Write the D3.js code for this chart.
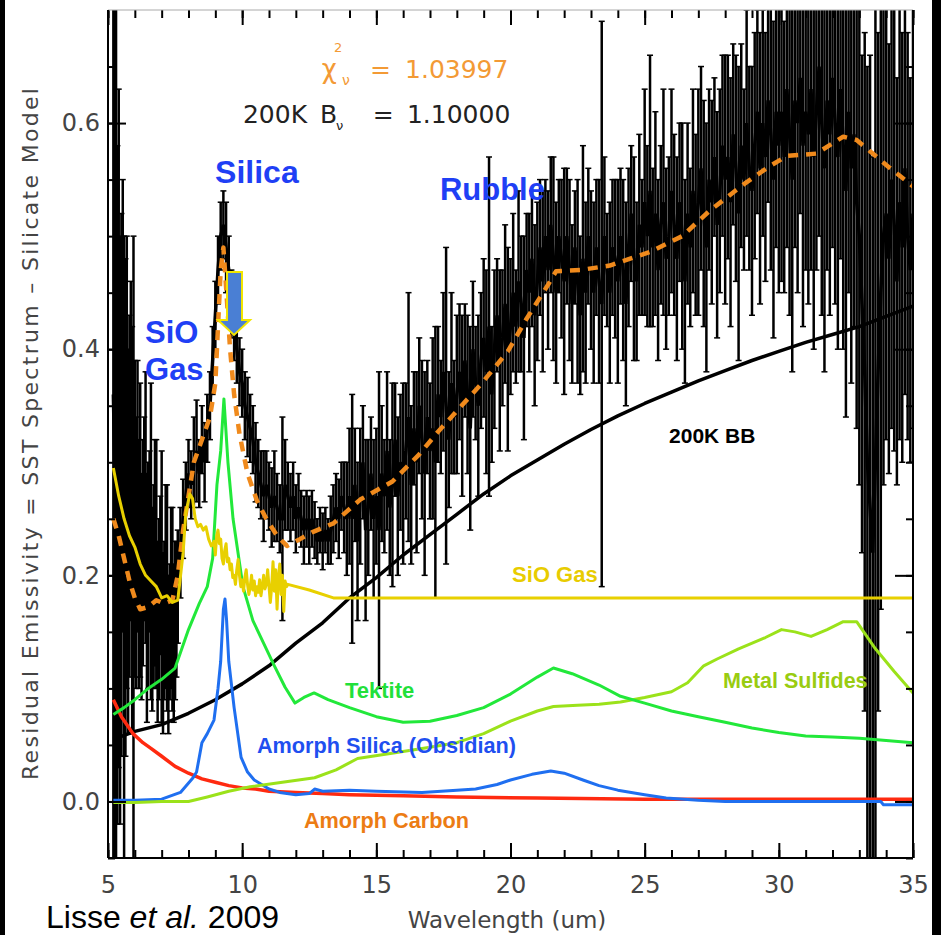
<!DOCTYPE html>
<html>
<head>
<meta charset="utf-8">
<script src="https://cdn.jsdelivr.net/npm/d3@7"></script>
<style>
  body { margin: 0; background: #fff; }
  svg { display: block; }
  .tick text { font-family: "DejaVu Sans", sans-serif; fill: #444; font-size: 24px; }
  .tick line { stroke: #000; stroke-width: 2; }
  .lbl { font-family: "Liberation Sans", Arial, sans-serif; font-weight: bold; }
  .idl { font-family: "DejaVu Sans", sans-serif; }
</style>
</head>
<body>
<svg id="chart" width="941" height="935"></svg>
<script>

//observed residual spectrum (wavelength um, emissivity, 1-sigma error)
const obsWave = [5.20,5.25,5.30,5.35,5.40,5.45,5.50,5.55,5.60,5.65,5.70,5.75,5.80,5.85,5.90,5.95,6.00,6.05,6.10,6.15,6.20,6.25,6.30,6.35,6.40,6.45,6.50,6.55,6.60,6.65,6.70,6.75,6.80,6.85,6.90,6.95,7.00,7.05,7.10,7.15,7.20,7.25,7.30,7.35,7.40,7.45,7.50,7.55,7.60,
  7.7,7.8,7.9,8.0,8.1,8.2,8.3,8.4,8.5,8.6,8.7,8.8,8.9,9.0,9.1,9.2,9.3,9.4,9.5,9.6,9.7,9.8,9.9,10.0,10.1,10.2,10.3,10.4,10.5,10.6,10.7,10.8,10.9,11.0,11.1,11.2,11.3,11.4,11.5,11.6,11.7,11.8,11.9,12.0,12.1,12.2,12.3,12.4,12.5,12.6,12.7,12.8,12.9,13.0,13.1,13.2,13.3,13.4,13.5,13.6,13.7,13.8,13.9,14.0,
  14.1,14.2,14.3,14.4,14.5,14.6,14.7,14.8,14.9,15.0,15.1,15.2,15.3,15.4,15.5,15.6,15.7,15.8,15.9,16.0,16.1,16.2,16.3,16.4,16.5,16.6,16.7,16.8,16.9,17.0,17.1,17.2,17.3,17.4,17.5,17.6,17.7,17.8,17.9,18.0,
  18.1,18.2,18.3,18.4,18.5,18.6,18.7,18.8,18.9,19.0,19.1,19.2,19.3,19.4,19.5,19.6,19.7,19.8,19.9,20.0,20.1,20.2,20.3,20.4,20.5,20.6,20.7,20.8,20.9,21.0,21.1,21.2,21.3,21.4,21.5,21.6,21.7,21.8,21.9,22.0,
  22.1,22.2,22.3,22.4,22.5,22.6,22.7,22.8,22.9,23.0,23.1,23.2,23.3,23.4,23.5,23.6,23.7,23.8,23.9,24.0,24.1,24.2,24.3,24.4,24.5,24.6,24.7,24.8,24.9,25.0,25.1,25.2,25.3,25.4,25.5,25.6,25.7,25.8,25.9,26.0,
  26.1,26.2,26.3,26.4,26.5,26.6,26.7,26.8,26.9,27.0,27.1,27.2,27.3,27.4,27.5,27.6,27.7,27.8,27.9,28.0,28.1,28.2,28.3,28.4,28.5,28.6,28.7,28.8,28.9,29.0,29.1,29.2,29.3,29.4,29.5,29.6,29.7,29.8,29.9,30.0,
  30.1,30.2,30.3,30.4,30.5,30.6,30.7,30.8,30.9,31.0,31.1,31.2,31.3,31.4,31.5,31.6,31.7,31.8,31.9,32.0,32.1,32.2,32.3,32.4,32.5,32.6,32.7,32.8,32.9,33.0,33.1,33.2,33.3,33.4,33.5,33.6,33.7,33.8,33.9,34.0,
  34.1,34.2,34.3,34.4,34.5,34.6,34.7,34.8,34.9,35.0];
const obsFlux = [.36,.30,.40,.28,.33,.24,.28,.35,.22,.26,.30,.23,.27,.31,.24,.20,.25,.22,.27,.21,.24,.19,.22,.25,.26,.18,.20,.23,.23,.17,.19,.22,.21,.15,.17,.20,.19,.14,.16,.19,.18,.13,.15,.18,.17,.14,.16,.17,.19,
  .22,.25,.27,.29,.28,.30,.31,.29,.32,.30,.33,.35,.39,.43,.47,.50,.51,.49,.47,.44,.42,.40,.38,.37,.35,.34,.33,.32,.30,.29,.28,.27,.28,.27,.26,.27,.26,.25,.25,.28,.27,.26,.27,.25,.26,.25,.24,.25,.24,.25,.24,.23,.24,.23,.24,.23,.24,.25,.26,.25,.27,.26,.25,.27,
  .25,.28,.23,.27,.30,.24,.26,.29,.25,.27, .24,.29,.27,.31,.26,.28,.32,.27,.30,.29, .31,.34,.28,.33,.30,.35,.32,.29,.34,.31, .33,.30,.36,.34,.38,.35,.32,.37,.34,.36,
  .38,.35,.39,.36,.33,.40,.37,.35,.39,.41, .38,.42,.36,.40,.43,.39,.41,.44,.40,.42, .45,.42,.46,.44,.41,.47,.45,.48,.43,.46, .49,.46,.50,.47,.51,.48,.45,.50,.48,.46,
  .50,.47,.44,.49,.46,.43,.48,.45,.50,.47, .45,.49,.46,.44,.50,.47,.45,.49,.48,.46, .50,.47,.44,.49,.52,.48,.46,.51,.49,.53, .50,.54,.49,.52,.47,.51,.53,.48,.50,.54,
  .51,.48,.53,.50,.46,.52,.49,.54,.51,.53, .56,.52,.49,.55,.53,.57,.51,.54,.58,.55, .57,.53,.59,.56,.52,.58,.55,.60,.56,.54, .58,.61,.56,.60,.57,.62,.59,.55,.61,.58,
  .61,.57,.63,.59,.55,.62,.60,.64,.58,.61, .59,.63,.57,.61,.65,.60,.56,.62,.59,.64, .60,.57,.63,.58,.54,.61,.56,.59,.53,.50, .44,.38,.30,.26,.22,.30,.38,.45,.50,.52,
  .48,.55,.51,.46,.53,.49,.56,.50,.47,.52];
const obsErr = [.70,.45,.60,.30,.30,.26,.24,.20,.28,.22,.20,.17,.16,.15,.18,.30,.14,.12,.12,.11,.13,.10,.10,.09,.12,.11,.10,.08,.14,.09,.09,.10,.11,.08,.08,.07,.12,.08,.07,.09,.10,.07,.06,.08,.09,.07,.07,.06,.05,
  .04,.035,.03,.03,.03,.04,.045,.03,.03,.035,.03,.03,.03,.03,.03,.03,.03,.04,.03,.03,.03,.03,.03,.03,.03,.035,.03,.03,.035,.03,.03,.04,.03,.03,.035,.04,.03,.03,.09,.04,.03,.03,.03,.03,.03,.025,.03,.025,.03,.025,.025,.02,.02,.025,.02,.02,.03,.03,.03,.035,.03,.04,.05,.06,
  .11,.05,.07,.06,.05,.08,.06,.05,.07,.06, .14,.06,.05,.07,.06,.09,.05,.07,.06,.08, .06,.11,.07,.05,.08,.06,.07,.09,.05,.06, .08,.12,.06,.05,.07,.14,.06,.08,.05,.07,
  .06,.08,.05,.07,.09,.06,.05,.08,.06,.07, .09,.15,.06,.07,.05,.08,.06,.07,.09,.06, .07,.05,.08,.06,.09,.05,.07,.06,.08,.07, .06,.08,.05,.07,.06,.09,.08,.05,.07,.10,
  .06,.08,.07,.05,.09,.07,.10,.08,.06,.07, .08,.06,.09,.25,.07,.05,.08,.06,.07,.09, .06,.08,.09,.07,.06,.09,.07,.08,.06,.10, .08,.12,.07,.09,.08,.07,.10,.08,.07,.09,
  .08,.09,.07,.10,.09,.08,.07,.09,.08,.10, .09,.10,.11,.08,.09,.07,.10,.09,.08,.11, .09,.11,.08,.10,.13,.09,.08,.10,.09,.11, .10,.09,.12,.10,.11,.09,.12,.14,.12,.13,
  .15,.12,.14,.16,.17,.13,.15,.12,.16,.14, .15,.16,.17,.14,.15,.17,.18,.15,.16,.15, .16,.17,.15,.18,.20,.16,.19,.17,.20,.22, .22,.30,.35,.40,.35,.90,.30,.28,.22,.20,
  .19,.22,.20,.18,.21,.19,.20,.18,.17,.19];

//model components [wavelength, emissivity]
const bb200K = [[5.2,0.055],[6,0.062],[7,0.068],[8,0.078],[9,0.09],[10,0.104],[11,0.12],[12,0.14],[13,0.158],[14,0.18],[15,0.198],[16,0.218],[17,0.236],[18,0.254],[19,0.272],[20,0.288],[21,0.302],[22,0.316],[23,0.329],[24,0.341],[25,0.352],[26,0.362],[27,0.372],[28,0.381],[29,0.39],[30,0.398],[31,0.406],[32,0.413],[33,0.42],[34,0.429],[35,0.438]];
const sioGas = [[5.2,0.295],[5.4,0.27],[5.6,0.25],[5.8,0.235],[6.0,0.225],[6.2,0.21],[6.4,0.2],[6.6,0.195],[6.8,0.19],[7.0,0.18],[7.2,0.182],[7.4,0.176],[7.6,0.178],[7.8,0.22],[7.9,0.255],[8.05,0.272],[8.15,0.268],[8.25,0.25],[8.35,0.243],[8.45,0.245],[8.55,0.24],[8.65,0.243],[8.75,0.232],[8.85,0.226],[8.95,0.23],[9.0,0.218],[9.05,0.235],[9.1,0.24],[9.15,0.228],[9.2,0.232],[9.25,0.215],[9.3,0.21],[9.35,0.222],[9.4,0.228],[9.45,0.212],[9.5,0.215],[9.55,0.205],[9.6,0.21],[9.65,0.198],[9.7,0.2],[9.75,0.192],[9.8,0.205],[9.85,0.214],[9.9,0.2],[9.95,0.19],[10.0,0.196],[10.05,0.186],[10.1,0.198],[10.15,0.205],[10.2,0.192],[10.25,0.183],[10.3,0.19],[10.35,0.2],[10.4,0.187],[10.45,0.195],[10.5,0.182],[10.55,0.19],[10.6,0.185],[10.65,0.196],[10.7,0.182],[10.75,0.19],[10.8,0.2],[10.85,0.188],[10.9,0.192],[10.95,0.205],[11.0,0.19],[11.05,0.176],[11.1,0.19],[11.15,0.212],[11.2,0.186],[11.25,0.205],[11.3,0.17],[11.35,0.198],[11.4,0.21],[11.45,0.183],[11.5,0.2],[11.55,0.168],[11.6,0.195],[11.65,0.19],[11.7,0.192],[12.5,0.187],[13.4,0.18],[35,0.18]];
const tektite = [[5.2,0.077],[5.6,0.083],[6,0.09],[6.5,0.1],[7,0.108],[7.5,0.118],[8,0.152],[8.4,0.175],[8.7,0.19],[8.9,0.215],[9.06,0.28],[9.2,0.31],[9.32,0.356],[9.47,0.30],[9.66,0.25],[10.03,0.19],[10.4,0.16],[10.7,0.145],[11.2,0.12],[11.6,0.101],[11.97,0.087],[12.3,0.092],[12.68,0.096],[13.2,0.09],[14,0.083],[15,0.075],[16,0.07],[17,0.071],[18,0.076],[19,0.083],[20,0.095],[21,0.11],[21.6,0.118],[22.3,0.113],[23.3,0.103],[24.1,0.093],[25,0.087],[26,0.08],[27,0.075],[28,0.07],[29,0.065],[30,0.061],[31,0.058],[32,0.057],[33,0.056],[34,0.054],[35,0.052]];
const obsidian = [[5.2,0.001],[6,0.001],[7,0.002],[7.7,0.008],[8.17,0.021],[8.3,0.026],[8.5,0.052],[8.7,0.06],[8.95,0.072],[9.1,0.1],[9.2,0.124],[9.3,0.17],[9.36,0.179],[9.42,0.16],[9.5,0.124],[9.7,0.083],[9.96,0.039],[10.2,0.026],[10.45,0.019],[11,0.011],[11.4,0.008],[12,0.006],[12.5,0.007],[12.7,0.011],[13,0.009],[14,0.01],[15,0.009],[16.7,0.008],[18,0.01],[18.7,0.011],[19.5,0.015],[20,0.019],[20.8,0.024],[21.5,0.027],[22,0.025],[22.7,0.019],[23.3,0.014],[24,0.01],[25,0.006],[25.8,0.003],[27,0.001],[28,0.0],[33.8,0.0],[33.9,-0.003],[35,-0.003]];
const amCarbon = [[5.2,0.09],[5.5,0.075],[5.93,0.06],[6.3,0.052],[6.6,0.047],[7,0.04],[7.5,0.031],[8,0.025],[8.5,0.02],[9,0.017],[9.5,0.014],[10,0.012],[10.5,0.011],[11,0.009],[12,0.008],[13,0.007],[14,0.006],[16,0.005],[18,0.004],[21,0.003],[25,0.002],[35,0.002]];
const sulfides = [[5.2,-0.001],[6,-0.001],[7,0.0],[8,0.0],[8.7,0.004],[9.5,0.009],[10.3,0.013],[11.5,0.017],[12.7,0.021],[13.5,0.028],[14.3,0.038],[15.7,0.043],[17,0.048],[18,0.052],[19,0.06],[20,0.071],[21,0.08],[21.6,0.084],[22.5,0.085],[23.3,0.086],[24.1,0.088],[25,0.092],[26,0.097],[26.6,0.105],[27.2,0.12],[27.7,0.126],[28.5,0.135],[29.5,0.145],[30.1,0.152],[30.6,0.15],[31.2,0.146],[31.8,0.152],[32.4,0.159],[32.9,0.159],[33.6,0.135],[34.3,0.115],[35,0.096]];
const totalModel = [[5.2,0.25],[5.4,0.235],[5.6,0.215],[5.8,0.195],[6.0,0.18],[6.2,0.17],[6.5,0.172],[6.8,0.178],[7.1,0.175],[7.4,0.178],[7.6,0.2],[7.8,0.24],[8.0,0.27],[8.2,0.3],[8.5,0.32],[8.8,0.34],[9.0,0.37],[9.1,0.42],[9.2,0.47],[9.3,0.49],[9.4,0.455],[9.55,0.40],[9.7,0.36],[9.9,0.325],[10.2,0.29],[10.55,0.266],[10.9,0.25],[11.3,0.235],[11.67,0.226],[12.15,0.232],[12.6,0.238],[13.4,0.246],[14.4,0.267],[15.6,0.283],[16.6,0.307],[17.3,0.327],[18.1,0.348],[18.9,0.369],[19.9,0.398],[20.6,0.427],[21.4,0.457],[21.7,0.469],[22.6,0.47],[23.7,0.474],[25.2,0.486],[26.4,0.5],[27.4,0.522],[28.7,0.546],[29.6,0.561],[30.3,0.571],[31.4,0.573],[32.4,0.588],[32.9,0.585],[33.5,0.573],[34.1,0.561],[35,0.544]];

//axis ticks
const xMajor = [5, 10, 15, 20, 25, 30, 35];
const yMajor = [0.0, 0.2, 0.4, 0.6];

const svg = d3.select("#chart");
const x = d3.scaleLinear().domain([5, 35]).range([108, 913]);
const y = d3.scaleLinear().domain([-0.05, 0.7]).range([858, 10]);

drawChart();

function drawChart()
{
    //side bars of the slide
    svg.append("rect").attr("x", 0).attr("y", 0).attr("width", 5).attr("height", 935).attr("fill", "#000");
    svg.append("rect").attr("x", 932).attr("y", 0).attr("width", 9).attr("height", 935).attr("fill", "#000");

    svg.append("clipPath").attr("id", "plotClip")
    .append("rect")
    .attr("x", x(5)).attr("y", y(0.7))
    .attr("width", x(35) - x(5)).attr("height", y(-0.05) - y(0.7));

    let plot = svg.append("g").attr("clip-path", "url(#plotClip)");

    drawObserved(plot);

    drawModel(plot, bb200K, "#000", 3.5, null);
    drawModel(plot, amCarbon, "#ff2a10", 3.5, null);
    drawModel(plot, obsidian, "#1f6ff0", 3, null);
    drawModel(plot, sulfides, "#9be21a", 3, null);
    drawModel(plot, tektite, "#22e83a", 3, null);
    drawModel(plot, totalModel, "#f08a1c", 4.5, "10,8");
    drawModel(plot, sioGas, "#e8d000", 3, null);

    drawAxes();
    drawLabels();
}

function drawObserved(plot)
{
    let obs = obsWave.map((w, i) => ({ w: w, f: obsFlux[i], e: obsErr[i] }));
    let g = plot.append("g").attr("stroke", "#000");

    //error bars
    g.selectAll()
    .data(obs)
    .enter()
    .append("line")
    .attr("x1", d => x(d.w))
    .attr("x2", d => x(d.w))
    .attr("y1", d => y(d.f - d.e))
    .attr("y2", d => y(d.f + d.e))
    .attr("stroke-width", 2.5);

    //caps
    [-1, 1].forEach(s => {
        g.selectAll()
        .data(obs)
        .enter()
        .append("line")
        .attr("x1", d => x(d.w) - 3)
        .attr("x2", d => x(d.w) + 3)
        .attr("y1", d => y(d.f + s * d.e))
        .attr("y2", d => y(d.f + s * d.e))
        .attr("stroke-width", 1.5);
    });

    let line = d3.line().x(d => x(d.w)).y(d => y(d.f));

    g.append("path")
    .attr("d", line(obs))
    .attr("fill", "none")
    .attr("stroke-width", 3.5);
}

function drawModel(plot, pts, color, width, dash)
{
    let line = d3.line().x(d => x(d[0])).y(d => y(d[1]));

    let p = plot.append("path")
    .attr("d", line(pts))
    .attr("fill", "none")
    .attr("stroke", color)
    .attr("stroke-width", width)
    .attr("stroke-linejoin", "round");

    if(dash) p.attr("stroke-dasharray", dash);
}

function drawAxes()
{
    let bottom = y(-0.05), top = y(0.7), left = x(5), right = x(35);

    //minor ticks
    svg.append("g").attr("transform", "translate(0," + bottom + ")")
    .call(d3.axisBottom(x).tickValues(d3.range(5, 36)).tickSizeInner(-8).tickSizeOuter(0).tickFormat(""));
    svg.append("g").attr("transform", "translate(0," + top + ")")
    .call(d3.axisTop(x).tickValues(d3.range(5, 36)).tickSizeInner(-8).tickSizeOuter(0).tickFormat(""));
    svg.append("g").attr("transform", "translate(" + left + ",0)")
    .call(d3.axisLeft(y).tickValues(d3.range(-0.05, 0.7, 0.05)).tickSizeInner(-7).tickSizeOuter(0).tickFormat(""));
    svg.append("g").attr("transform", "translate(" + right + ",0)")
    .call(d3.axisRight(y).tickValues(d3.range(-0.05, 0.7, 0.05)).tickSizeInner(-7).tickSizeOuter(0).tickFormat(""));

    //major ticks and labels
    svg.append("g").attr("transform", "translate(0," + bottom + ")")
    .call(d3.axisBottom(x).tickValues(xMajor).tickSizeInner(-15).tickSizeOuter(0).tickPadding(18).tickFormat(d3.format("d")));
    svg.append("g").attr("transform", "translate(0," + top + ")")
    .call(d3.axisTop(x).tickValues(xMajor).tickSizeInner(-15).tickSizeOuter(0).tickFormat(""));
    svg.append("g").attr("transform", "translate(" + left + ",0)")
    .call(d3.axisLeft(y).tickValues(yMajor).tickSizeInner(-18).tickSizeOuter(0).tickPadding(8).tickFormat(d3.format(".1f")));
    svg.append("g").attr("transform", "translate(" + right + ",0)")
    .call(d3.axisRight(y).tickValues(yMajor).tickSizeInner(-18).tickSizeOuter(0).tickFormat(""));

    svg.selectAll(".domain").remove();

    //frame
    svg.append("line").attr("x1", left).attr("x2", right).attr("y1", top).attr("y2", top).attr("stroke", "#aaa").attr("stroke-width", 1);
    svg.append("line").attr("x1", left).attr("x2", right).attr("y1", bottom).attr("y2", bottom).attr("stroke", "#000").attr("stroke-width", 2);
    svg.append("line").attr("x1", left).attr("x2", left).attr("y1", top).attr("y2", bottom).attr("stroke", "#000").attr("stroke-width", 2);
    svg.append("line").attr("x1", right).attr("x2", right).attr("y1", top).attr("y2", bottom).attr("stroke", "#000").attr("stroke-width", 2);

    svg.append("text")
    .attr("class", "idl")
    .attr("x", 507).attr("y", 928)
    .attr("text-anchor", "middle")
    .attr("font-size", 23).attr("fill", "#444")
    .text("Wavelength (um)");

    svg.append("text")
    .attr("class", "idl")
    .attr("transform", "translate(38,434) rotate(-90)")
    .attr("text-anchor", "middle")
    .attr("font-size", 22).attr("fill", "#444")
    .attr("textLength", 692)
    .text("Residual Emissivity  =  SST Spectrum  \u2013  Silicate Model");
}

function addText(cls, w, v, size, color, str)
{
    return svg.append("text")
    .attr("class", cls)
    .attr("x", x(w)).attr("y", y(v))
    .attr("font-size", size)
    .attr("fill", color)
    .text(str);
}

function drawLabels()
{
    //fit statistics
    addText("idl", 12.97, 0.64, 26, "#f39a35", "\u03c7");
    addText("idl", 13.42, 0.663, 13, "#f39a35", "2");
    addText("idl", 13.72, 0.634, 14, "#f39a35", "\u03bd");
    addText("idl", 14.76, 0.64, 25, "#f39a35", "=");
    addText("idl", 16.07, 0.64, 25, "#f39a35", "1.03997");

    addText("idl", 10.03, 0.6, 25, "#222", "200K");
    addText("idl", 12.9, 0.6, 25, "#222", "B");
    addText("idl", 13.5, 0.594, 13, "#222", "\u03bd");
    addText("idl", 14.87, 0.6, 25, "#222", "=");
    addText("idl", 16.14, 0.6, 25, "#222", "1.10000");

    //feature names
    addText("lbl", 8.99, 0.547, 32, "#1f3ff5", "Silica");
    addText("lbl", 17.37, 0.532, 31, "#1f3ff5", "Rubble");
    addText("lbl", 6.38, 0.4055, 31, "#1f3ff5", "SiO");
    addText("lbl", 6.38, 0.3728, 31, "#1f3ff5", "Gas");

    //component names
    addText("lbl", 25.91, 0.317, 21, "#000", "200K BB");
    addText("lbl", 20.06, 0.194, 22, "#e8cc00", "SiO Gas");
    addText("lbl", 13.83, 0.0915, 22, "#22e03a", "Tektite");
    addText("lbl", 27.92, 0.1004, 21.5, "#99cc11", "Metal Sulfides");
    addText("lbl", 10.55, 0.0429, 21.7, "#1f4ff0", "Amorph Silica (Obsidian)");
    addText("lbl", 12.3, -0.0235, 21.7, "#ec7c14", "Amorph Carbon");

    //arrow pointing at the silica peak
    let tx = x(9.696), ty = y(0.4126);
    let arrow = [[-7,-63],[8,-63],[8,-15],[16,-15],[0,0],[-16,-15],[-7,-15]];
    svg.append("polygon")
    .attr("points", arrow.map(p => (tx + p[0]) + "," + (ty + p[1])).join(" "))
    .attr("fill", "#4a7fd4")
    .attr("stroke", "#f2e600")
    .attr("stroke-width", 2);

    //citation
    let cite = svg.append("text")
    .attr("x", 46).attr("y", 928)
    .attr("font-family", "'Liberation Sans', Arial, sans-serif")
    .attr("font-size", 32)
    .attr("fill", "#000");
    cite.append("tspan").text("Lisse ");
    cite.append("tspan").attr("font-style", "italic").text("et al.");
    cite.append("tspan").text(" 2009");
}
</script>
</body>
</html>
